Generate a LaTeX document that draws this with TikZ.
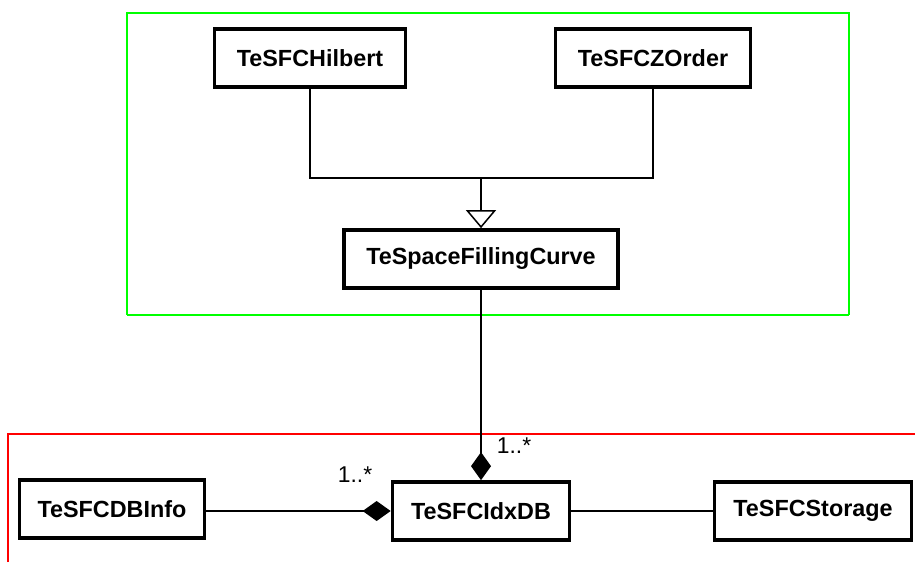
\documentclass[tikz,border=0pt]{standalone}
\usepackage{fontspec}
\setmainfont{Liberation Sans}
\usetikzlibrary{arrows.meta}
\definecolor{framegreen}{RGB}{0,255,0}
\definecolor{framered}{RGB}{255,0,0}

\begin{document}
\begin{tikzpicture}[x=0.02cm, y=-0.02cm,
  classbox/.style={draw, line width=0.075cm, inner sep=0pt, minimum height=1.16cm,
                   font=\fontsize{13.3}{15}\selectfont\bfseries},
  assoc/.style={line width=0.03cm},
  inherit/.style={assoc, -{Triangle[open, width=0.6cm, length=0.36cm, line width=0.03cm]}},
  compo/.style={assoc, -{Diamond[width=0.4cm, length=0.56cm]}},
  mult/.style={font=\fontsize{13}{15}\selectfont, inner sep=0pt}]

\useasboundingbox (0,0) rectangle (915,562);

%---------------------------------------
% Package frames
%---------------------------------------
\draw[framegreen, line width=0.04cm] (127,315) -- (127,13) -- (849,13) -- (849,315);
\draw[framegreen, line width=0.025cm] (127,315) -- (849,315);
\draw[framered, line width=0.035cm] (8,562) -- (8,434) -- (915,434);

%---------------------------------------
% Curve classes
%---------------------------------------
\node[classbox, minimum width=3.82cm] (hilbert) at (310,58) {TeSFCHilbert};
\node[classbox, minimum width=3.9cm]  (zorder)  at (653,58) {TeSFCZOrder};
\node[classbox, minimum width=5.48cm] (sfc)     at (481,259) {TeSpaceFillingCurve};

\coordinate (join) at (481,178);

% Generalisation
\draw[assoc] (hilbert.south) |- (join) -| (zorder.south);
\draw[inherit] (join) -- (sfc.north);

%---------------------------------------
% Index database classes
%---------------------------------------
\node[classbox, minimum width=3.7cm]  (dbinfo)  at (112,509) {TeSFCDBInfo};
\node[classbox, minimum width=3.54cm] (idxdb)   at (481,511) {TeSFCIdxDB};
\node[classbox, minimum width=3.94cm] (storage) at (813,511) {TeSFCStorage};

% Compositions
\draw[compo] (sfc.south) -- (idxdb.north);
\draw[compo] (dbinfo.east |- idxdb.west) -- (idxdb.west);
\draw[assoc] (idxdb.east) -- (storage.west);

\node[mult] (multsfc)  at (514,446) {1..*};
\node[mult] (multinfo) at (355,475) {1..*};

\end{tikzpicture}
\end{document}
